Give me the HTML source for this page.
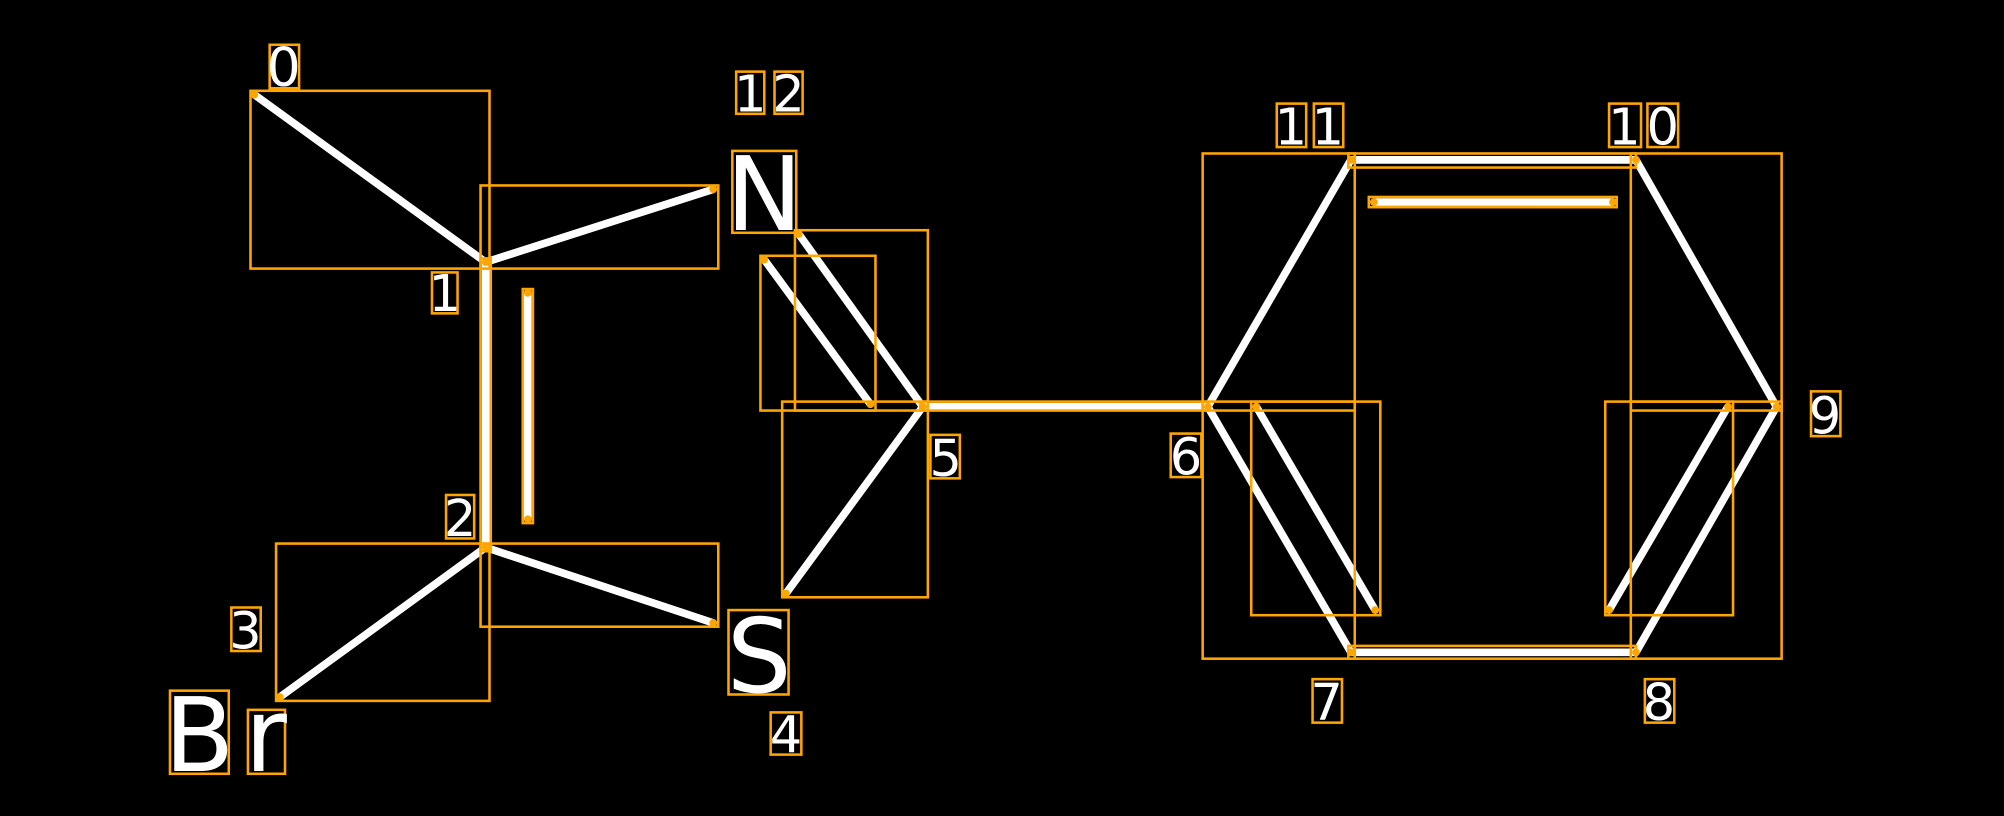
<!DOCTYPE html>
<html><head><style>html,body{margin:0;padding:0;background:#000;width:2004px;height:816px;overflow:hidden}</style></head>
<body>
<svg width="2004" height="816" viewBox="0 0 1568 638" preserveAspectRatio="none" xmlns="http://www.w3.org/2000/svg">
<rect x="0" y="0" width="1568" height="638" fill="#000"/>
<g stroke="#fff" stroke-width="6" stroke-linecap="round" fill="none">
<line x1="199" y1="74" x2="380" y2="205"/>
<line x1="380" y1="205" x2="558" y2="148"/>
<line x1="380" y1="205" x2="380" y2="428"/>
<line x1="413" y1="229" x2="413" y2="406"/>
<line x1="380" y1="428" x2="219" y2="545"/>
<line x1="380" y1="428" x2="558" y2="487"/>
<line x1="625" y1="183" x2="722" y2="318"/>
<line x1="598" y1="203" x2="681" y2="316"/>
<line x1="722" y1="318" x2="615" y2="464"/>
<line x1="722" y1="318" x2="945" y2="318"/>
<line x1="945" y1="318" x2="1057" y2="125"/>
<line x1="1057" y1="125" x2="1280" y2="125"/>
<line x1="1075" y1="158" x2="1262" y2="158"/>
<line x1="1280" y1="125" x2="1390" y2="318"/>
<line x1="1390" y1="318" x2="1280" y2="510"/>
<line x1="1352" y1="318" x2="1259" y2="477"/>
<line x1="1280" y1="510" x2="1057" y2="510"/>
<line x1="1057" y1="510" x2="945" y2="318"/>
<line x1="983" y1="318" x2="1076" y2="477"/>
</g>
<g stroke="#FFA500" stroke-width="2" fill="none">
<rect x="196" y="71" width="187" height="139"/>
<rect x="376" y="145" width="186" height="65"/>
<rect x="216" y="425" width="167" height="123"/>
<rect x="376" y="425" width="186" height="65"/>
<rect x="376" y="202" width="8" height="229"/>
<rect x="409" y="226" width="8" height="183"/>
<rect x="622" y="180" width="104" height="141"/>
<rect x="595" y="200" width="90" height="121"/>
<rect x="612" y="314" width="114" height="153"/>
<rect x="720" y="314" width="225" height="7"/>
<rect x="941" y="120" width="119" height="201"/>
<rect x="941" y="314" width="119" height="201"/>
<rect x="979" y="314" width="101" height="167"/>
<rect x="1055" y="120" width="225" height="11"/>
<rect x="1071" y="154" width="194" height="8"/>
<rect x="1276" y="120" width="118" height="201"/>
<rect x="1276" y="314" width="118" height="201"/>
<rect x="1256" y="314" width="100" height="167"/>
<rect x="1055" y="505" width="225" height="10"/>
<rect x="211" y="35" width="23" height="34"/>
<rect x="338" y="213" width="20" height="32"/>
<rect x="349" y="387" width="22" height="34"/>
<rect x="181" y="475" width="23" height="34"/>
<rect x="133" y="540" width="46" height="65"/>
<rect x="194" y="555" width="29" height="50"/>
<rect x="573" y="118" width="50" height="64"/>
<rect x="570" y="477" width="47" height="66"/>
<rect x="603" y="557" width="24" height="33"/>
<rect x="728" y="340" width="23" height="34"/>
<rect x="916" y="339" width="24" height="34"/>
<rect x="1027" y="531" width="23" height="34"/>
<rect x="1287" y="531" width="23" height="34"/>
<rect x="1417" y="306" width="23" height="35"/>
<rect x="1259" y="81" width="25" height="34"/>
<rect x="1289" y="81" width="24" height="34"/>
<rect x="999" y="81" width="23" height="34"/>
<rect x="1028" y="81" width="23" height="34"/>
<rect x="576" y="56" width="22" height="33"/>
<rect x="606" y="56" width="22" height="33"/>
</g>
<g fill="#FFA500">
<circle cx="199" cy="74" r="3"/><circle cx="380" cy="205" r="3"/><circle cx="558" cy="148" r="3"/>
<circle cx="380" cy="428" r="3"/><circle cx="219" cy="545" r="3"/><circle cx="558" cy="487" r="3"/>
<circle cx="625" cy="183" r="3"/><circle cx="598" cy="203" r="3"/><circle cx="681" cy="316" r="3"/>
<circle cx="722" cy="318" r="3"/><circle cx="615" cy="464" r="3"/><circle cx="945" cy="318" r="3"/>
<circle cx="1057" cy="125" r="3"/><circle cx="1280" cy="125" r="3"/><circle cx="1390" cy="318" r="3"/>
<circle cx="1280" cy="510" r="3"/><circle cx="1057" cy="510" r="3"/><circle cx="983" cy="318" r="3"/>
<circle cx="1076" cy="477" r="3"/><circle cx="1352" cy="318" r="3"/><circle cx="1259" cy="477" r="3"/>
<circle cx="1075" cy="158" r="3"/><circle cx="1262" cy="158" r="3"/><circle cx="413" cy="229" r="3"/><circle cx="413" cy="406" r="3"/>
</g>
<g fill="#fff" font-family="'DejaVu Sans','Liberation Sans',sans-serif" text-anchor="middle">
<text x="222" y="67" font-size="42">0</text>
<text x="348" y="243" font-size="40">1</text>
<text x="360" y="419" font-size="40">2</text>
<text x="192" y="507" font-size="40">3</text>
<text x="156" y="603" font-size="80">B</text>
<text x="208" y="603" font-size="80">r</text>
<text x="598" y="180" font-size="80">N</text>
<text x="594" y="541" font-size="80">S</text>
<text x="615" y="588" font-size="40">4</text>
<text x="740" y="372" font-size="40">5</text>
<text x="928" y="371" font-size="40">6</text>
<text x="1038" y="563" font-size="40">7</text>
<text x="1298" y="563" font-size="40">8</text>
<text x="1428" y="339" font-size="40">9</text>
<text x="1271" y="113" font-size="40">1</text>
<text x="1301" y="113" font-size="40">0</text>
<text x="1010" y="113" font-size="40">1</text>
<text x="1039" y="113" font-size="40">1</text>
<text x="587" y="87" font-size="40">1</text>
<text x="617" y="87" font-size="40">2</text>
</g>
</svg>
</body></html>
